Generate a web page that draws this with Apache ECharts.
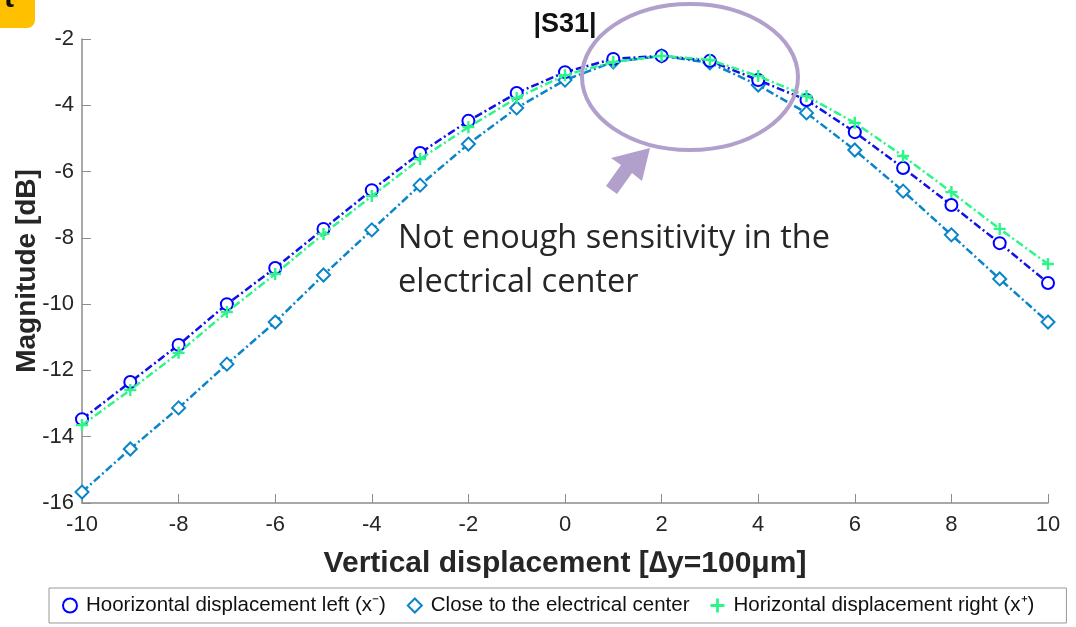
<!DOCTYPE html>
<html><head><meta charset="utf-8">
<script src="https://cdn.jsdelivr.net/npm/echarts@6/dist/echarts.min.js"></script>
<style>html,body{margin:0;padding:0;background:#fff}#c{width:1076px;height:627px}</style>
</head><body><div id="c"></div>
<script>
const xValues = [-10,-9,-8,-7,-6,-5,-4,-3,-2,-1,0,1,2,3,4,5,6,7,8,9,10];
const leftVals = [-13.47,-12.35,-11.23,-10.0,-8.91,-7.73,-6.56,-5.44,-4.47,-3.63,-3.0,-2.6,-2.51,-2.66,-3.24,-3.84,-4.81,-5.89,-7.01,-8.16,-9.36];
const centerVals = [-15.67,-14.37,-13.13,-11.81,-10.54,-9.12,-7.76,-6.41,-5.17,-4.08,-3.24,-2.69,-2.51,-2.72,-3.39,-4.23,-5.35,-6.59,-7.91,-9.24,-10.54];
const rightVals = [-13.65,-12.59,-11.47,-10.24,-9.09,-7.88,-6.74,-5.62,-4.66,-3.78,-3.09,-2.69,-2.51,-2.63,-3.12,-3.72,-4.53,-5.53,-6.62,-7.73,-8.79];
const seriesNames = ['Hoorizontal displacement left (x\u207B)','Close to the electrical center','Horizontal displacement right (x\u207A)'];
const titleText = '|S31|';
const annotationLines = ['Not enough sensitivity in the','electrical center'];

const pair = v => v.map((y,i)=>[xValues[i], y]);
const plusPath = 'path://M4,0H6V4H10V6H6V10H4V6H0V4H4Z';
const dashDot = [8,3,2,3];
const chart = echarts.init(document.getElementById('c'));
const font = 'Liberation Sans, Arial, sans-serif';
chart.setOption({
  animation:false,
  backgroundColor:'#fff',
  grid:{left:82,right:28,top:39,bottom:124,outerBoundsMode:'none',containLabel:false},
  title:{text:titleText,left:560,top:6,textAlign:'center',textStyle:{fontFamily:font,fontWeight:'bold',fontSize:27,color:'#111'}},
  xAxis:{type:'value',min:-10,max:10,interval:2,
    name:'Vertical displacement [\u2206y=100\u03BCm]',nameLocation:'middle',nameGap:46,
    nameTextStyle:{fontFamily:font,fontWeight:'bold',fontSize:30,color:'#262626'},
    axisLine:{onZero:false,lineStyle:{color:'#8c8c8c',width:1.5}},
    axisTick:{inside:true,length:9,lineStyle:{color:'#8c8c8c'}},
    axisLabel:{fontFamily:font,fontSize:22,color:'#262626',margin:11},
    splitLine:{show:false}},
  yAxis:{type:'value',min:-16,max:-2,interval:2,
    name:'Magnitude [dB]',nameLocation:'middle',nameGap:41,nameMoveOverlap:false,
    nameTextStyle:{fontFamily:font,fontWeight:'bold',fontSize:28,color:'#262626'},
    axisLine:{show:true,onZero:false,lineStyle:{color:'#8c8c8c',width:1.5}},
    axisTick:{show:true,inside:true,length:9,lineStyle:{color:'#8c8c8c'}},
    axisLabel:{fontFamily:font,fontSize:22,color:'#262626',margin:8},
    splitLine:{show:false}},
  legend:{bottom:4,left:49,itemGap:21,itemWidth:14,itemHeight:14,
    borderColor:'#999',borderWidth:1,padding:[7,32,7,13],
    textStyle:{fontFamily:font,fontSize:20.5,color:'#111',padding:[0,0,0,4]},
    data:[
      {name:seriesNames[0],icon:'emptyCircle'},
      {name:seriesNames[1],icon:'emptyDiamond'},
      {name:seriesNames[2],icon:plusPath}
    ]},
  series:[
    {name:seriesNames[0],type:'line',data:pair(leftVals),symbol:'emptyCircle',symbolSize:12,
      lineStyle:{color:'#1010e8',width:2.5,type:dashDot},itemStyle:{color:'#0000ff',borderWidth:2.5},z:3},
    {name:seriesNames[1],type:'line',data:pair(centerVals),symbol:'emptyDiamond',symbolSize:13,
      lineStyle:{color:'#0a86c8',width:2.5,type:dashDot},itemStyle:{color:'#0a86c8',borderWidth:2.5},z:2},
    {name:seriesNames[2],type:'line',data:pair(rightVals),symbol:plusPath,symbolSize:12,
      lineStyle:{color:'#2cf58a',width:2.5,type:dashDot},itemStyle:{color:'#2cf58a'},z:4}
  ],
  graphic:[
    {type:'rect',shape:{x:-10,y:-10,width:45,height:38,r:8},style:{fill:'#ffc000'}},
    {type:'text',left:4,top:-16,style:{text:'t',fontFamily:font,fontWeight:'bold',fontSize:30,fill:'#111'}},
    {type:'ellipse',shape:{cx:690,cy:77,rx:108,ry:73},style:{fill:'none',stroke:'#b1a0cc',lineWidth:4},z:10},
    {type:'polygon',shape:{points:[[650,148],[642,181],[632,173],[617,194],[606,186],[621,165],[611,158]]},style:{fill:'#b1a0cc'},z:10},
    {type:'text',left:398,top:217,style:{text:annotationLines.join('\n'),fontFamily:'Open Sans, sans-serif',fontSize:32.5,lineHeight:44,fill:'#262626'},z:10}
  ]
});
</script></body></html>
